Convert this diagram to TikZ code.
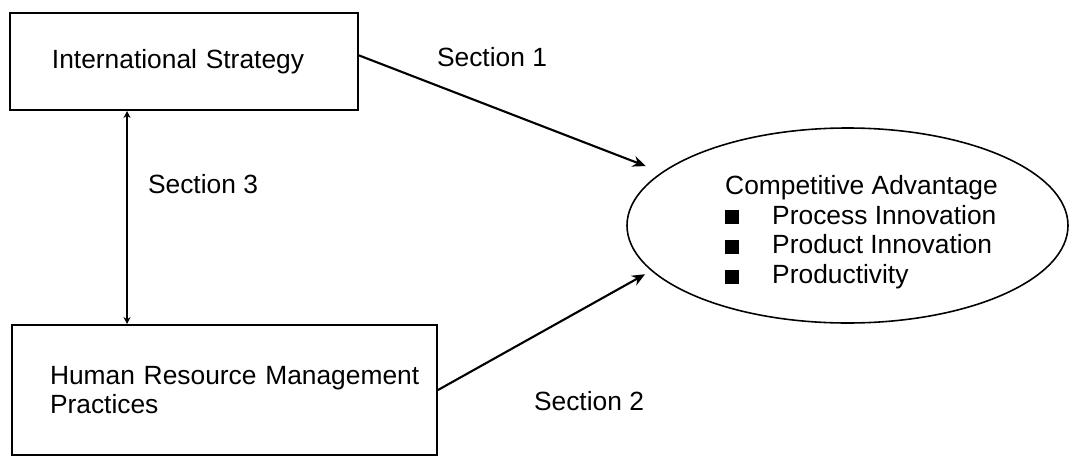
\documentclass[tikz,border=0pt]{standalone}
\usepackage{fontspec}
\setmainfont{Liberation Sans}
\usepackage{tikz}
\usetikzlibrary{shapes.geometric, arrows.meta, positioning, calc}
\newcommand{\sqbul}{\makebox[0.94cm][l]{\rule{0.28cm}{0.28cm}}}
\tikzset{
  blk/.style  ={rectangle, draw=black, line width=1.1pt, fill=white, align=left,
                font=\fontsize{15}{16}\selectfont},
  oval/.style ={ellipse, draw=black, line width=0.9pt, inner sep=0pt,
                minimum width=8.82cm, minimum height=3.9cm,
                font=\fontsize{15}{17}\selectfont},
  lbl/.style  ={font=\fontsize{15}{16}\selectfont, inner sep=0pt},
  ar/.style   ={-{Stealth[length=2.6mm, width=2.2mm]}, draw=black, line width=1.2pt},
  ar2/.style  ={{Stealth[length=1.4mm, width=1.4mm]}-{Stealth[length=1.4mm, width=1.4mm]},
                draw=black, line width=0.8pt},
}
\begin{document}
\begin{tikzpicture}
\useasboundingbox (0,0) rectangle (21.4,-9.12);
\node[blk, text width=5.28cm, inner xsep=0.84cm, minimum height=1.94cm] (is) at (3.68,-1.23)
  {International Strategy};
\node[blk, text width=6.98cm, inner xsep=0.76cm, minimum height=2.6cm] (hrm) at (4.49,-7.8)
  {\mbox{Human Resource Management}\\Practices};
\node[oval] (ca) at (16.95,-4.51) {%
  \begin{tabular}{@{\hspace{0.56cm}}l@{}l@{}}
  \multicolumn{2}{@{\hspace{0.56cm}}l@{}}{\rule{0pt}{0.72cm}Competitive Advantage}\\
  \sqbul & Process Innovation\\
  \sqbul & Product Innovation\\
  \sqbul & Productivity
  \end{tabular}};
% section labels
\node[lbl] (s1) at (9.84,-1.14) {Section 1};
\node[lbl] (s3) at (4.06,-3.68) {Section 3};
\node[lbl] (s2) at (11.78,-8.02) {Section 2};
% connectors
\coordinate (vtop) at ($(is.south west)+(2.36,0)$);
\coordinate (vbot) at (vtop |- hrm.north);
\draw[ar2] (vtop) -- (vbot);
\draw[ar, shorten >=0.34cm] (is.2) -- (ca.164.4);
\draw[ar, shorten >=0.14cm] (hrm.east) -- (ca.193.3);
\end{tikzpicture}
\end{document}
